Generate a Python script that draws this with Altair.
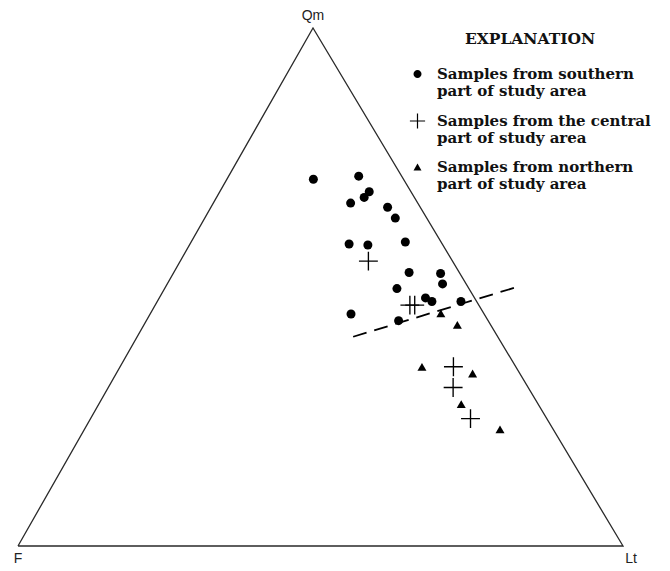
import altair as alt
import pandas as pd

# ---- data: compositions in percent (Qm, Lt; F = 100 - Qm - Lt) ----
south_qm = [70.8, 71.4, 68.4, 67.3, 66.2, 65.4, 63.3, 58.3, 58.1, 58.7, 52.8, 52.6, 50.6, 49.7, 47.9, 47.2, 47.2, 44.8, 43.5]
south_lt = [14.3, 21.5, 24.7, 24.4, 22.7, 29.2, 31.5, 26.3, 29.5, 35.4, 38.9, 44.2, 45.5, 38.4, 44.0, 45.4, 50.2, 33.2, 41.7]
central_qm = [55.0, 46.5, 46.5, 34.6, 30.6, 24.6]
central_lt = [31.1, 42.1, 42.9, 55.1, 57.0, 62.8]
north_qm = [44.9, 42.7, 34.6, 33.3, 27.4, 22.5]
north_lt = [48.0, 51.8, 49.9, 58.9, 59.9, 68.7]
boundary_qm = [40.4, 50.1]
boundary_lt = [35.7, 58.3]

groups = [
    "Samples from southern|\u00a0part of study area",
    "Samples from the central|\u00a0part of study area",
    "Samples from northern|\u00a0part of study area",
]
vertex_names = ["F", "Lt", "Qm"]

# ternary -> cartesian (triangle apex geometry)
APEX_X = 0.4876
APEX_Y = 0.8562


def cart(qm, lt):
    return lt / 100 + qm / 100 * APEX_X, qm / 100 * APEX_Y


rows = []
for g, qms, lts in zip(groups, [south_qm, central_qm, north_qm], [south_lt, central_lt, north_lt]):
    for q, l in zip(qms, lts):
        x, y = cart(q, l)
        rows.append({"group": g, "Qm": q, "Lt": l, "F": round(100 - q - l, 1), "x": x, "y": y})
pts = pd.DataFrame(rows)

tri_qm = [0, 0, 100, 0]
tri_lt = [0, 100, 0, 0]
tri = pd.DataFrame([{"x": cart(q, l)[0], "y": cart(q, l)[1], "o": i} for i, (q, l) in enumerate(zip(tri_qm, tri_lt))])

bnd = pd.DataFrame([{"x": cart(q, l)[0], "y": cart(q, l)[1], "o": i} for i, (q, l) in enumerate(zip(boundary_qm, boundary_lt))])

vtx = pd.DataFrame([
    {"name": n, "x": cart(q, l)[0], "y": cart(q, l)[1]}
    for n, q, l in zip(vertex_names, [0, 0, 100], [0, 100, 0])
])

xs = alt.Scale(domain=[-0.01653, 1.06446], nice=False, zero=False)
ys = alt.Scale(domain=[-0.0281, 0.8893], nice=False, zero=False)
X = alt.X("x:Q", scale=xs, axis=None)
Y = alt.Y("y:Q", scale=ys, axis=None)

outline = alt.Chart(tri).mark_line(color="#2a2a2a", strokeWidth=1.3).encode(x=X, y=Y, order="o:Q")
dashed = alt.Chart(bnd).mark_line(color="black", strokeWidth=1.8, strokeDash=[14, 8]).encode(x=X, y=Y, order="o:Q")

# thin plus sign drawn as a filled outline
plus_path = "M-2.1,-0.15H-0.15V-2.1H0.15V-0.15H2.1V0.15H0.15V2.1H-0.15V0.15H-2.1Z"
points = alt.Chart(pts).mark_point(filled=True, opacity=1, color="black", size=81).encode(
    x=X, y=Y,
    shape=alt.Shape("group:N", sort=groups,
                    scale=alt.Scale(domain=groups, range=["circle", plus_path, "triangle-up"]),
                    legend=None),
    tooltip=["group:N", "Qm:Q", "F:Q", "Lt:Q"],
)

# legend symbols: same shapes, raised to sit on the first line of each label
leg_circle = "M-1,-1.25A1,1,0,1,1,1,-1.25A1,1,0,1,1,-1,-1.25Z"
leg_plus = "M-1.9,-1.4H-0.15V-3.15H0.15V-1.4H1.9V-1.1H0.15V0.65H-0.15V-1.1H-1.9Z"
leg_tri = "M0,-2.1L1,-0.4L-1,-0.4Z"
legend_layer = alt.Chart(pts).mark_point(filled=True, opacity=1, color="black", size=0).encode(
    x=X, y=Y,
    shape=alt.Shape("group:N", sort=groups,
                    scale=alt.Scale(domain=groups, range=[leg_circle, leg_plus, leg_tri]),
                    legend=alt.Legend(
                        title="EXPLANATION", orient="none", legendX=402, legendY=24,
                        titleFont="DejaVu Serif", titleFontWeight="bold", titleFontSize=15.5,
                        titleColor="#111", titleAnchor="middle", titlePadding=24,
                        labelFont="DejaVu Serif", labelFontWeight="bold", labelFontSize=15,
                        labelColor="#111", labelExpr="split(datum.label, '|')",
                        labelBaseline="alphabetic", labelOffset=12, labelLimit=400,
                        symbolFillColor="black", symbolOpacity=1, symbolStrokeWidth=0,
                        symbolSize=64, rowPadding=13, padding=0)),
)

base_lbl = alt.Chart(vtx)
lbl_kw = dict(font="Liberation Sans", fontSize=14, color="#222", baseline="middle")
lbl_top = base_lbl.transform_filter("datum.name == 'Qm'").mark_text(dy=-12, **lbl_kw).encode(x=X, y=Y, text="name:N")
lbl_f = base_lbl.transform_filter("datum.name == 'F'").mark_text(dy=13, **lbl_kw).encode(x=X, y=Y, text="name:N")
lbl_lt = base_lbl.transform_filter("datum.name == 'Lt'").mark_text(dx=8, dy=13, **lbl_kw).encode(x=X, y=Y, text="name:N")

chart = alt.layer(outline, dashed, points, legend_layer, lbl_top, lbl_f, lbl_lt).resolve_scale(
    shape="independent"
).properties(
    width=654, height=555, padding=0
).configure_view(stroke=None)

chart.save("out.html", embed_options={"renderer": "svg", "actions": False})
